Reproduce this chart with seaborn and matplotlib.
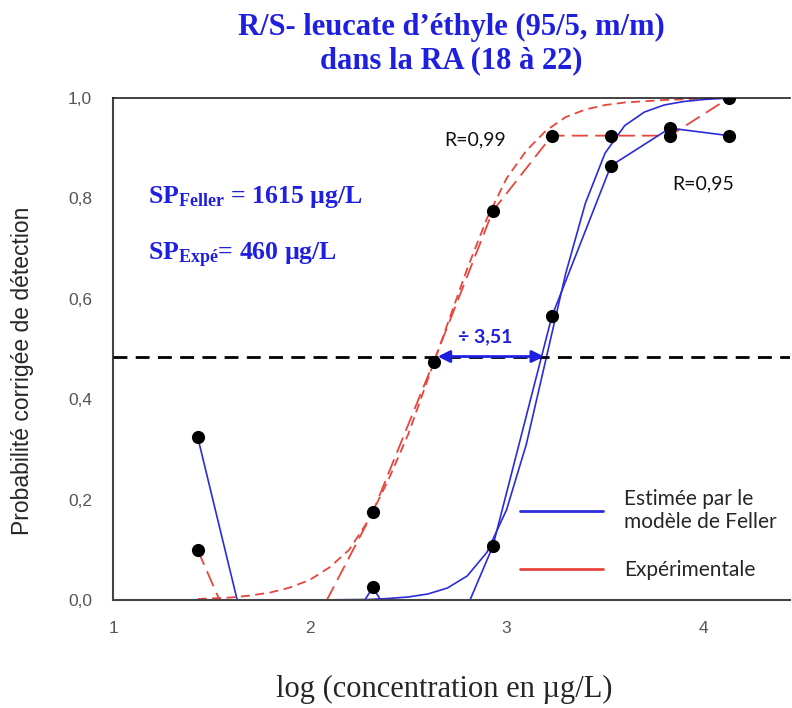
import numpy as np
import pandas as pd
import matplotlib
matplotlib.use("Agg")
import matplotlib.pyplot as plt
from matplotlib.lines import Line2D
import seaborn as sns

# ---- data ----
log_conc = [1.43, 1.73, 2.02, 2.32, 2.63, 2.93, 3.23, 3.53, 3.83, 4.13]
# points below 0 are clipped by the axis (not visible in the reference)
exp_prob = [0.10, -0.17, -0.05, 0.175, 0.475, 0.775, 0.925, 0.925, 0.925, 1.00]
feller_prob = [0.325, -0.16, -0.16, 0.025, -0.17, 0.107, 0.565, 0.865, 0.94, 0.925]

exp_fit_x = [1.43, 1.6, 1.7, 1.8, 1.9, 2.0, 2.1, 2.2, 2.3, 2.4, 2.5, 2.6, 2.7, 2.8,
             2.9, 3.0, 3.1, 3.2, 3.3, 3.4, 3.5, 3.6, 3.8, 4.0, 4.13]
exp_fit_y = [0.002, 0.005, 0.009, 0.015, 0.025, 0.040, 0.065, 0.10, 0.16, 0.24, 0.33,
             0.44, 0.55, 0.66, 0.76, 0.84, 0.895, 0.935, 0.962, 0.977, 0.986, 0.991,
             0.996, 0.999, 1.0]

fel_fit_x = [1.43, 2.0, 2.3, 2.4, 2.5, 2.6, 2.7, 2.8, 2.9, 3.0, 3.1, 3.2, 3.3, 3.4,
             3.5, 3.6, 3.7, 3.8, 3.9, 4.0, 4.13]
fel_fit_y = [0.0, 0.0, 0.001, 0.003, 0.006, 0.012, 0.024, 0.048, 0.095, 0.18, 0.31,
             0.48, 0.65, 0.79, 0.89, 0.945, 0.972, 0.986, 0.993, 0.997, 1.0]

sp_level = 0.485
sp_exp_log = 2.65
sp_fel_log = 3.19

xticks = [1, 2, 3, 4]
yticks = [0.0, 0.2, 0.4, 0.6, 0.8, 1.0]

RED = "#e8453c"
BLUE = "#2b2bdc"
TXT_BLUE = "#1f1fe0"

sns.set_style("white")
plt.rcParams["font.family"] = ["Lato", "DejaVu Sans"]
plt.rcParams["mathtext.fontset"] = "custom"
plt.rcParams["mathtext.rm"] = "Liberation Serif:bold"
plt.rcParams["mathtext.bf"] = "Liberation Serif:bold"
plt.rcParams["mathtext.it"] = "Liberation Serif:bold"

fig = plt.figure(figsize=(7.92, 7.08), dpi=100)
ax = fig.add_axes([113 / 792, 1 - 600 / 708, 677 / 792, 502 / 708])

# fitted smooth curves
sns.lineplot(x=exp_fit_x, y=exp_fit_y, ax=ax, color=RED, lw=1.3,
             linestyle=(0, (5, 3)), estimator=None, sort=False)
sns.lineplot(x=fel_fit_x, y=fel_fit_y, ax=ax, color=BLUE, lw=1.2,
             estimator=None, sort=False)
# polylines through the points
sns.lineplot(x=log_conc, y=exp_prob, ax=ax, color=RED, lw=1.3,
             linestyle=(0, (9, 4)), estimator=None, sort=False)
sns.lineplot(x=log_conc, y=feller_prob, ax=ax, color=BLUE, lw=1.2,
             estimator=None, sort=False)

pts = pd.DataFrame({"x": log_conc * 2, "y": exp_prob + feller_prob})
sns.scatterplot(data=pts, x="x", y="y", ax=ax, color="black", s=90,
                edgecolor="black", linewidth=0, zorder=5)

# SP50 level and ratio arrow
ax.axhline(sp_level, color="black", lw=2, linestyle=(0, (5, 3)), zorder=3)
ax.annotate("", xy=(sp_exp_log, sp_level), xytext=(sp_fel_log, sp_level),
            arrowprops=dict(arrowstyle="<|-|>", color=TXT_BLUE, lw=2,
                            mutation_scale=18, shrinkA=0, shrinkB=0), zorder=6)
ax.text(2.89, sp_level + 0.022, "÷ 3,51", color=TXT_BLUE,
        fontsize=14, fontweight="bold", ha="center", va="bottom")

ax.text(2.84, 0.916, "R=0,99", fontsize=14, ha="center", va="center", color="#111111")
ax.text(4.0, 0.829, "R=0,95", fontsize=14, ha="center", va="center", color="#111111")

ax.text(1.18, 0.79, r"SP$_{\mathrm{Feller}}$ = 1615 µg/L", color=TXT_BLUE,
        fontsize=18.5, family="Liberation Serif", fontweight="bold", va="baseline")
ax.text(1.18, 0.677, r"SP$_{\mathrm{Expé}}$= 460 µg/L", color=TXT_BLUE,
        fontsize=18.5, family="Liberation Serif", fontweight="bold", va="baseline")

ax.set_xlim(1, 4.44)
ax.set_ylim(0, 1.0)
ax.set_xticks(xticks)
ax.set_xticklabels([str(t) for t in xticks])
ax.set_yticks(yticks)
ax.set_yticklabels([f"{t:.1f}".replace(".", ",") for t in yticks])
ax.tick_params(axis="both", direction="out", length=6, width=1.2, color="#444444",
               labelsize=12.5, labelcolor="#555555", pad=9)
for lab in ax.get_xticklabels() + ax.get_yticklabels():
    lab.set_family("Liberation Sans")

for side in ["left", "bottom"]:
    ax.spines[side].set_color("#444444")
    ax.spines[side].set_linewidth(1.5)
ax.spines["top"].set_color("#222222")
ax.spines["top"].set_linewidth(1.2)
ax.spines["right"].set_visible(False)

ax.set_ylabel("Probabilité corrigée de détection", fontsize=16.5, family="Liberation Sans")
ax.yaxis.set_label_coords(-0.117, 0.456)
ax.set_xlabel("log (concentration en µg/L)", fontsize=22, family="Liberation Serif")
ax.xaxis.set_label_coords(0.49, -0.15)

fig.text(451 / 792, 1 - 27 / 708, "R/S- leucate d’éthyle (95/5, m/m)", color=TXT_BLUE,
         fontsize=22, family="Liberation Serif", fontweight="bold", ha="center", va="center")
fig.text(451 / 792, 1 - 61 / 708, "dans la RA (18 à 22)", color=TXT_BLUE,
         fontsize=22, family="Liberation Serif", fontweight="bold", ha="center", va="center")

handles = [Line2D([], [], color=BLUE, lw=2), Line2D([], [], color=RED, lw=2)]
ax.legend(handles, ["Estimée par le\nmodèle de Feller", "Expérimentale"],
          loc="upper left", bbox_to_anchor=(0.601, 0.222), frameon=False,
          fontsize=15, handlelength=4.0, handletextpad=1.0, labelspacing=1.35,
          borderpad=0, borderaxespad=0)

fig.savefig("out.png", dpi=100, facecolor="white")
